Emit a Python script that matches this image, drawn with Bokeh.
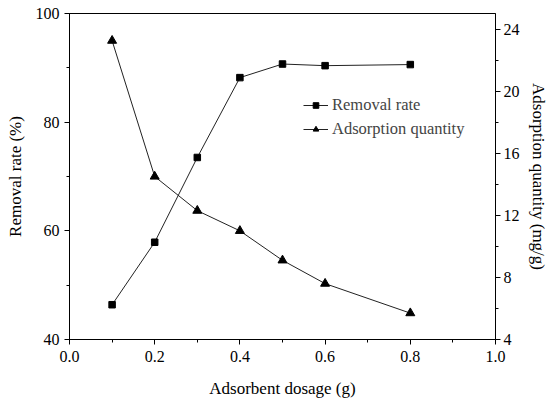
from bokeh.plotting import figure
from bokeh.models import Range1d, LinearAxis, SingleIntervalTicker, PrintfTickFormatter, Legend, LegendItem
from bokeh.embed import file_html
from bokeh.resources import INLINE

dosage = [0.1, 0.2, 0.3, 0.4, 0.5, 0.6, 0.8]
removal_rate = [46.4, 57.9, 73.5, 88.2, 90.7, 90.4, 90.6]
adsorption_qty = [23.25, 14.5, 12.3, 11.0, 9.1, 7.6, 5.7]

FONT = "Liberation Serif"

p = figure(width=550, height=403, output_backend="svg", toolbar_location=None,
           x_range=Range1d(0, 1.0), y_range=Range1d(40, 100),
           frame_width=426, frame_height=326,
           min_border_left=69, min_border_right=55, min_border_top=13, min_border_bottom=64)
p.extra_y_ranges = {"q": Range1d(4, 25)}

p.xgrid.visible = False
p.ygrid.visible = False
p.outline_line_color = "black"
p.outline_line_width = 1
p.background_fill_color = "white"
p.border_fill_color = "white"

def style_axis(ax):
    ax.axis_line_color = "black"
    ax.major_tick_line_color = "black"
    ax.minor_tick_line_color = "black"
    ax.major_tick_out = 5
    ax.major_tick_in = 0
    ax.minor_tick_out = 3
    ax.minor_tick_in = 0
    ax.major_label_text_font = FONT
    ax.major_label_text_font_size = "16px"
    ax.major_label_text_color = "black"
    ax.axis_label_text_font = FONT
    ax.axis_label_text_font_size = "17px"
    ax.axis_label_text_font_style = "normal"
    ax.axis_label_text_color = "black"

xa = p.xaxis[0]
xa.ticker = SingleIntervalTicker(interval=0.2, num_minor_ticks=2)
xa.formatter = PrintfTickFormatter(format="%.1f")
xa.axis_label = "Adsorbent dosage (g)"
style_axis(xa)
xa.major_label_standoff = 6
xa.axis_label_standoff = 14

ya = p.yaxis[0]
ya.ticker = SingleIntervalTicker(interval=20, num_minor_ticks=2)
ya.axis_label = "Removal rate (%)"
style_axis(ya)
ya.major_label_standoff = 5
ya.axis_label_standoff = 8

ra = LinearAxis(y_range_name="q", axis_label="Adsorption quantity (mg/g)",
                ticker=SingleIntervalTicker(interval=4, num_minor_ticks=2))
style_axis(ra)
ra.major_label_standoff = 3
ra.axis_label_standoff = 6
p.add_layout(ra, "right")

l1 = p.line(dosage, removal_rate, line_color="#222222", line_width=1)
m1 = p.scatter(dosage, removal_rate, marker="square", size=6.5, fill_color="black", line_color="black")
l2 = p.line(dosage, adsorption_qty, y_range_name="q", line_color="#222222", line_width=1)
m2 = p.scatter(dosage, adsorption_qty, y_range_name="q", marker="triangle", size=9,
               fill_color="black", line_color="black")

legend = Legend(items=[LegendItem(label="Removal rate", renderers=[l1, m1]),
                       LegendItem(label="Adsorption quantity", renderers=[l2, m2])],
                location=(234, 200))
legend.border_line_color = None
legend.background_fill_alpha = 0
legend.label_text_font = FONT
legend.label_text_font_size = "16.5px"
legend.glyph_width = 25
legend.glyph_height = 14
legend.label_standoff = 4
legend.spacing = 4
legend.padding = 2
legend.margin = 0
legend.label_height = 17
p.add_layout(legend, "center")

open("out.html", "w").write(file_html(p, INLINE))
